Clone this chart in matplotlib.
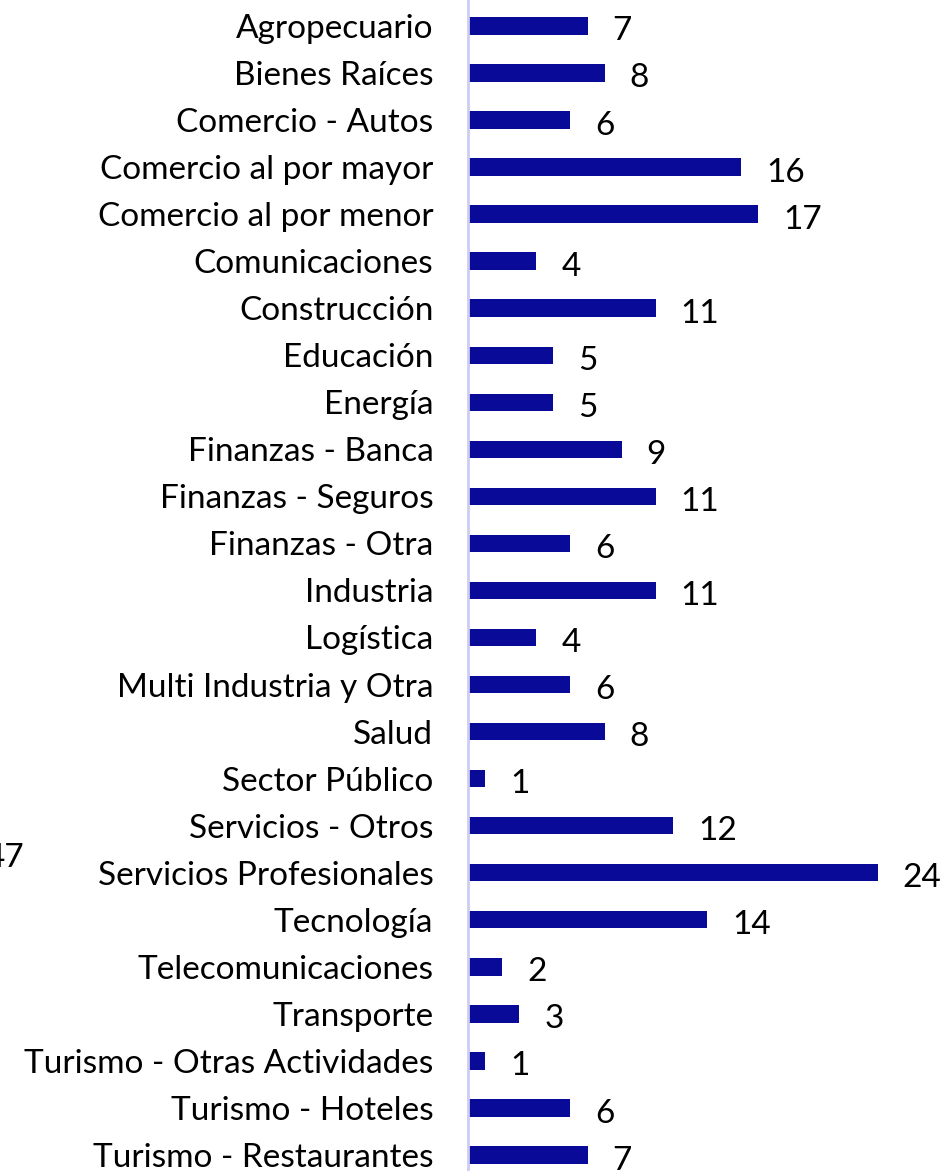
import matplotlib.pyplot as plt

categories = [
    'Agropecuario', 'Bienes Raíces', 'Comercio - Autos', 'Comercio al por mayor',
    'Comercio al por menor', 'Comunicaciones', 'Construcción', 'Educación',
    'Energía', 'Finanzas - Banca', 'Finanzas - Seguros', 'Finanzas - Otra',
    'Industria', 'Logística', 'Multi Industria y Otra', 'Salud',
    'Sector Público', 'Servicios - Otros', 'Servicios Profesionales', 'Tecnología',
    'Telecomunicaciones', 'Transporte', 'Turismo - Otras Actividades',
    'Turismo - Hoteles', 'Turismo - Restaurantes',
]
values = [7, 8, 6, 16, 17, 4, 11, 5, 5, 9, 11, 6, 11, 4, 6, 8, 1, 12, 24, 14, 2, 3, 1, 6, 7]
stray_label = '47'

plt.rcParams['font.family'] = ['Lato', 'DejaVu Sans']

fig = plt.figure(figsize=(9.46, 11.71), dpi=100)
ax = fig.add_axes([468 / 946, 0, 1 - 468 / 946, 1])

pos = list(range(len(categories)))
ax.barh(pos, values, height=0.37, color='#0A0A99')
ax.set_xlim(0, 28)
ax.set_ylim(24.34, -0.55)

for p, v in zip(pos, values):
    ax.annotate(str(v), (v, p), xytext=(18, -4), textcoords='offset points',
                ha='left', va='center', fontsize=24, color='black')

ax.set_yticks(pos)
ax.set_yticklabels(categories, fontsize=24)
ax.tick_params(axis='y', length=0, pad=25)
ax.set_xticks([])
for side in ['top', 'right', 'bottom']:
    ax.spines[side].set_visible(False)
ax.spines['left'].set_color('#CCCCF5')
ax.spines['left'].set_linewidth(2)

fig.text(24 / 946, 1 - 858 / 1171, stray_label, ha='right', va='center', fontsize=24)

fig.savefig('out.png', dpi=100)
